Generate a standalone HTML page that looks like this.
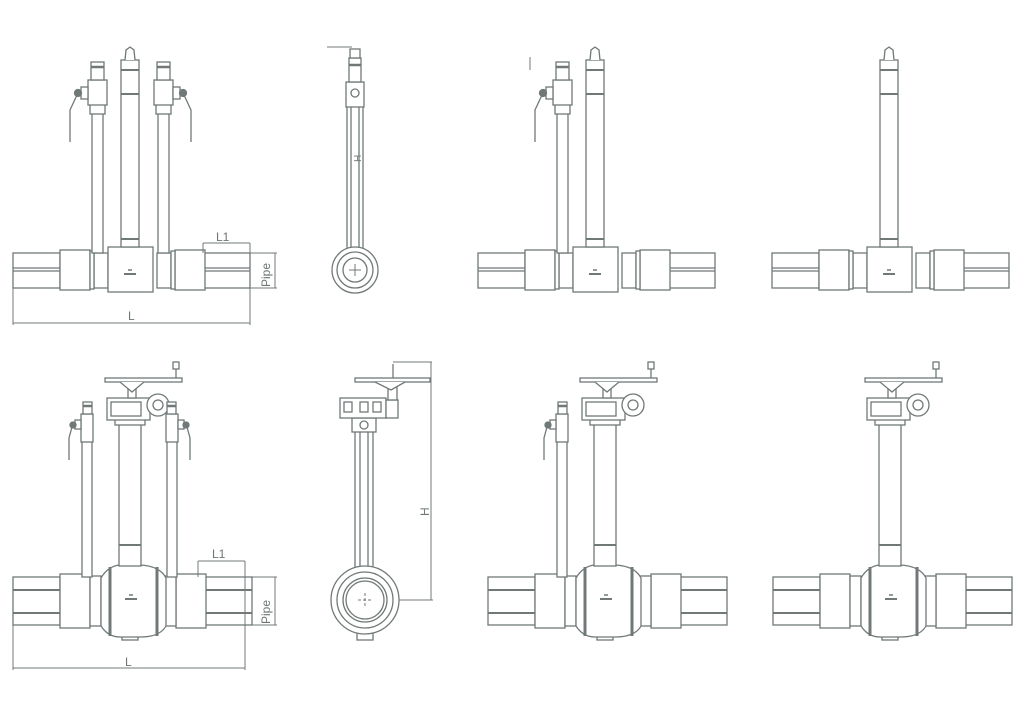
<!DOCTYPE html>
<html><head><meta charset="utf-8"><style>
html,body{margin:0;padding:0;background:#fff;}
svg{display:block;}
text{font-family:"Liberation Sans",sans-serif;fill:#6d7575;}
</style></head><body>
<svg width="1024" height="725" viewBox="0 0 1024 725" xmlns="http://www.w3.org/2000/svg">
<defs>
<g id="tBase" fill="#fff" stroke="#707878" stroke-width="1.3">
  <rect x="-117" y="253" width="47" height="35"/>
  <rect x="73" y="253" width="47" height="35"/>
  <line x1="-117" y1="268" x2="-70" y2="268"/><line x1="-117" y1="271" x2="-70" y2="271"/>
  <line x1="73" y1="268" x2="120" y2="268"/><line x1="73" y1="271" x2="120" y2="271"/>
  <rect x="-36" y="253" width="14" height="35"/>
  <rect x="27" y="253" width="14" height="35"/>
  <rect x="-70" y="250" width="30" height="40"/>
  <rect x="45" y="250" width="30" height="40"/>
  <rect x="-40" y="251" width="4" height="38"/>
  <rect x="41" y="251" width="4" height="38"/>
  <rect x="-22" y="247" width="45" height="45"/>
  <line x1="-6" y1="274" x2="6" y2="274" stroke-width="2"/>
  <line x1="-2" y1="270" x2="2" y2="270" stroke-width="1.5"/>
</g>
<g id="tStem" fill="#fff" stroke="#707878" stroke-width="1.3">
  <rect x="-9" y="60" width="18" height="187"/>
  <path d="M-5 60 L-4 50 L0 47 L4 50 L5 60"/>
  <line x1="-9" y1="70" x2="9" y2="70" stroke-width="2"/>
  <line x1="-9" y1="94" x2="9" y2="94" stroke-width="2"/>
  <line x1="-9" y1="239" x2="9" y2="239" stroke-width="2"/>
</g>
<g id="tBranch" fill="#fff" stroke="#707878" stroke-width="1.3">
  <rect x="-5" y="110" width="11" height="143"/>
  <rect x="-7" y="104" width="15" height="10"/>
  <rect x="-9" y="80" width="19" height="25"/>
  <rect x="-6" y="62" width="13" height="18"/>
  <line x1="-6" y1="67" x2="7" y2="67" stroke-width="2.5"/>
  <rect x="-16" y="87" width="7" height="12"/>
  <circle cx="-19" cy="93" r="3.5" fill="#707878"/>
  <path d="M-20 95 L-27 110 L-27 142" fill="none"/>
</g>
<g id="bBase" fill="#fff" stroke="#707878" stroke-width="1.3">
  <rect x="-117" y="577" width="47" height="48"/>
  <rect x="75" y="577" width="47" height="48"/>
  <line x1="-117" y1="590" x2="-70" y2="590" stroke-width="2"/><line x1="-117" y1="613" x2="-70" y2="613" stroke-width="2"/>
  <line x1="75" y1="590" x2="122" y2="590" stroke-width="2"/><line x1="75" y1="613" x2="122" y2="613" stroke-width="2"/>
  <rect x="-70" y="574" width="30" height="54"/>
  <rect x="46" y="574" width="30" height="54"/>
  <rect x="-40" y="576" width="11" height="50"/>
  <rect x="34" y="576" width="12" height="50"/>
  <rect x="-8" y="628" width="16" height="12"/>
  <path d="M-29 578 Q-22 566 -10 565 L10 565 Q30 566 36 578 L36 626 Q30 637 10 637 L-10 637 Q-22 637 -29 626 Z"/>
  <line x1="-20" y1="567" x2="-20" y2="636" stroke-width="3"/>
  <line x1="27" y1="567" x2="27" y2="636" stroke-width="3"/>
  <line x1="-5" y1="599" x2="7" y2="599" stroke-width="2"/>
  <line x1="-1" y1="595" x2="3" y2="595" stroke-width="1.5"/>
</g>
<g id="bTop" fill="#fff" stroke="#707878" stroke-width="1.3">
  <rect x="-11" y="424" width="22" height="142"/>
  <line x1="-11" y1="545" x2="11" y2="545" stroke-width="2"/>
  <rect x="-15" y="418" width="30" height="7"/>
  <rect x="-23" y="398" width="43" height="22"/>
  <rect x="-19" y="402" width="30" height="14"/>
  <circle cx="28" cy="405" r="11"/>
  <circle cx="28" cy="405" r="5"/>
  <rect x="-2" y="385" width="8" height="13"/>
  <rect x="-25" y="378" width="77" height="4"/>
  <path d="M-10 382 L2 392 L14 382"/>
  <line x1="46" y1="378" x2="46" y2="366"/>
  <rect x="43" y="362" width="6" height="7"/>
</g>
<g id="bBranch" fill="#fff" stroke="#707878" stroke-width="1.3">
  <rect x="-5" y="440" width="10" height="137"/>
  <rect x="-6" y="414" width="12" height="28"/>
  <rect x="-4" y="402" width="9" height="12"/>
  <line x1="-4" y1="406" x2="5" y2="406" stroke-width="2.5"/>
  <rect x="-12" y="420" width="6" height="9"/>
  <circle cx="-14" cy="425" r="3" fill="#707878"/>
  <path d="M-15 427 L-18 438 L-18 460" fill="none"/>
</g>
</defs>

<!-- Top row -->
<g transform="translate(130,0)">
  <use href="#tBase"/><use href="#tStem"/>
  <use href="#tBranch" transform="translate(-33,0)"/>
  <use href="#tBranch" transform="translate(34,0) scale(-1,1)"/>
</g>
<g stroke="#707878" stroke-width="1" fill="none">
  <line x1="203" y1="243" x2="250" y2="243"/><line x1="203" y1="243" x2="203" y2="253"/><line x1="250" y1="243" x2="250" y2="288"/>
  <line x1="250" y1="253" x2="277" y2="253"/><line x1="250" y1="288" x2="277" y2="288"/><line x1="275" y1="253" x2="275" y2="288"/>
  <line x1="13" y1="288" x2="13" y2="325"/><line x1="250" y1="288" x2="250" y2="325"/><line x1="13" y1="323" x2="250" y2="323"/>
</g>
<text x="216" y="241" font-size="12">L1</text>
<text x="128" y="320" font-size="12">L</text>
<text transform="translate(270,287) rotate(-90)" font-size="12">Pipe</text>

<g transform="translate(595,0)">
  <use href="#tBase"/><use href="#tStem"/>
  <use href="#tBranch" transform="translate(-33,0)"/>
</g>
<line x1="530" y1="57" x2="530" y2="70" stroke="#707878"/>
<g transform="translate(889,0)">
  <use href="#tBase"/><use href="#tStem"/>
</g>

<!-- top side view -->
<g fill="#fff" stroke="#707878" stroke-width="1.3">
  <rect x="347" y="105" width="16" height="145"/>
  <line x1="351" y1="105" x2="351" y2="250"/><line x1="359" y1="105" x2="359" y2="250"/>
  <rect x="346" y="82" width="18" height="25"/>
  <circle cx="355" cy="93" r="4"/>
  <rect x="349" y="58" width="12" height="24"/>
  <line x1="349" y1="65" x2="361" y2="65" stroke-width="2.5"/>
  <rect x="350" y="49" width="10" height="9"/>
  <line x1="327" y1="47" x2="352" y2="47" stroke-width="1"/>
  <circle cx="355" cy="270" r="23"/>
  <circle cx="355" cy="270" r="18"/>
  <circle cx="355" cy="270" r="12"/>
  <line x1="349" y1="270" x2="361" y2="270" stroke-width="1"/><line x1="355" y1="264" x2="355" y2="276" stroke-width="1"/>
</g>
<text transform="translate(361,162) rotate(-90)" font-size="10">H</text>

<!-- Bottom row -->
<g transform="translate(130,0)">
  <use href="#bBase"/><use href="#bTop"/>
  <use href="#bBranch" transform="translate(-43,0)"/>
  <use href="#bBranch" transform="translate(42,0) scale(-1,1)"/>
</g>
<g stroke="#707878" stroke-width="1" fill="none">
  <line x1="198" y1="561" x2="245" y2="561"/><line x1="198" y1="561" x2="198" y2="577"/><line x1="245" y1="561" x2="245" y2="625"/>
  <line x1="245" y1="577" x2="277" y2="577"/><line x1="245" y1="625" x2="277" y2="625"/><line x1="275" y1="577" x2="275" y2="625"/>
  <line x1="13" y1="625" x2="13" y2="670"/><line x1="245" y1="625" x2="245" y2="670"/><line x1="13" y1="668" x2="245" y2="668"/>
</g>
<text x="212" y="558" font-size="12">L1</text>
<text x="125" y="666" font-size="12">L</text>
<text transform="translate(270,624) rotate(-90)" font-size="12">Pipe</text>

<g transform="translate(605,0)">
  <use href="#bBase"/><use href="#bTop"/>
  <use href="#bBranch" transform="translate(-43,0)"/>
</g>
<g transform="translate(890,0)">
  <use href="#bBase"/><use href="#bTop"/>
</g>

<!-- bottom side view -->
<g fill="#fff" stroke="#707878" stroke-width="1.3">
  <rect x="355" y="430" width="18" height="140"/>
  <line x1="360" y1="430" x2="360" y2="570"/><line x1="368" y1="430" x2="368" y2="570"/>
  <rect x="352" y="418" width="24" height="14"/>
  <circle cx="364" cy="425" r="4"/>
  <rect x="340" y="398" width="46" height="20"/>
  <rect x="386" y="400" width="12" height="18"/>
  <rect x="344" y="402" width="8" height="10"/><rect x="360" y="402" width="8" height="10"/><rect x="373" y="402" width="8" height="10"/>
  <rect x="388" y="386" width="9" height="14"/>
  <rect x="355" y="378" width="75" height="4"/>
  <path d="M375 382 L391 390 L405 382"/>
  <line x1="393" y1="378" x2="393" y2="364"/>
  <line x1="393" y1="362" x2="432" y2="362" stroke-width="1"/>
  <line x1="431" y1="362" x2="431" y2="600" stroke-width="1"/>
  <line x1="398" y1="600" x2="433" y2="600" stroke-width="1"/>
  <rect x="357" y="630" width="16" height="10"/>
  <circle cx="365" cy="600" r="34"/>
  <circle cx="365" cy="600" r="28"/>
  <circle cx="365" cy="600" r="22"/>
  <circle cx="365" cy="600" r="19"/>
  <line x1="358" y1="600" x2="372" y2="600" stroke-width="1" stroke-dasharray="3 2"/>
  <line x1="365" y1="593" x2="365" y2="607" stroke-width="1" stroke-dasharray="3 2"/>
</g>
<text transform="translate(429,516) rotate(-90)" font-size="12">H</text>
</svg>
</body></html>
